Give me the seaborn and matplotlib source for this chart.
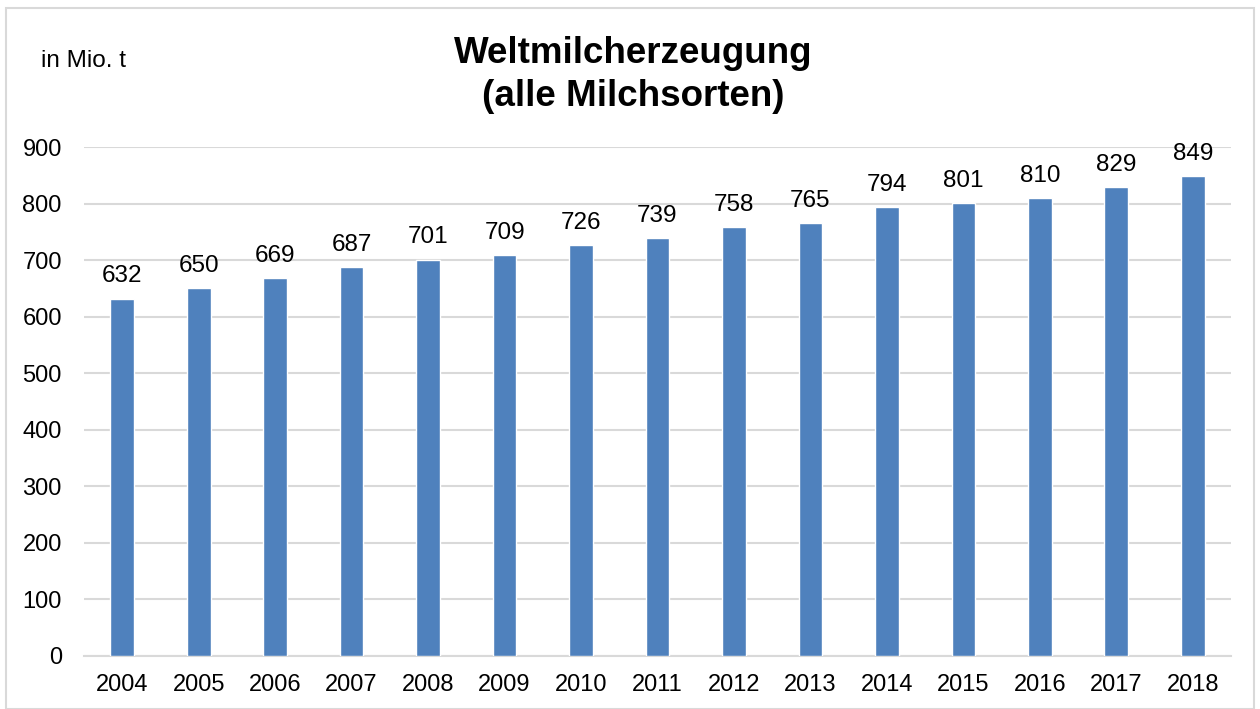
import pandas as pd
import matplotlib.pyplot as plt
import seaborn as sns
from matplotlib.patches import Rectangle

# Data
years = ['2004', '2005', '2006', '2007', '2008', '2009', '2010', '2011',
         '2012', '2013', '2014', '2015', '2016', '2017', '2018']
production = [632, 650, 669, 687, 701, 709, 726, 739, 758, 765, 794, 801, 810, 829, 849]
y_ticks = [0, 100, 200, 300, 400, 500, 600, 700, 800, 900]

BAR_COLOR = '#4F81BD'
GRID_COLOR = '#D9D9D9'


def main():
    df = pd.DataFrame({'Jahr': years, 'Produktion': production})

    sns.set_style("white")
    plt.rcParams['font.family'] = ['Liberation Sans', 'DejaVu Sans']
    plt.rcParams['text.color'] = 'black'
    plt.rcParams['xtick.color'] = 'black'
    plt.rcParams['ytick.color'] = 'black'

    fig = plt.figure(figsize=(12.6, 7.09), dpi=100)
    ax = fig.add_axes([84 / 1260, 53 / 709, (1231 - 84) / 1260, (656 - 147) / 709])

    sns.barplot(data=df, x='Jahr', y='Produktion', color=BAR_COLOR,
                saturation=1, width=0.31, ax=ax, zorder=3)

    ax.set_ylim(0, 900)
    ax.set_xlim(-0.5, len(years) - 0.5)
    ax.set_yticks(y_ticks)
    ax.yaxis.grid(True, color=GRID_COLOR, linewidth=1.5, zorder=0)
    ax.set_axisbelow(True)
    for side in ['top', 'right', 'left']:
        ax.spines[side].set_visible(False)
    ax.spines['bottom'].set_color(GRID_COLOR)
    ax.spines['bottom'].set_linewidth(1.5)
    ax.tick_params(axis='x', length=0, pad=13, labelsize=17)
    ax.tick_params(axis='y', length=0, pad=16, labelsize=17)
    ax.set_xlabel('')
    ax.set_ylabel('')

    # value labels
    for i, v in enumerate(production):
        ax.annotate(str(v), (i, v), xytext=(0, 8), textcoords='offset points',
                    ha='center', va='bottom', fontsize=17.5)

    fig.text(0.5025, 1 - 36 / 709, 'Weltmilcherzeugung\n(alle Milchsorten)',
             ha='center', va='top', fontsize=26.5, fontweight='bold', linespacing=1.28)
    fig.text(41 / 1260, 1 - 61 / 709, 'in Mio. t', ha='left', va='center', fontsize=17.5)

    # chart frame
    fig.patches.append(Rectangle((6 / 1260, 0), 1248 / 1260, 1 - 8 / 709,
                                 transform=fig.transFigure, fill=False,
                                 edgecolor=GRID_COLOR, linewidth=1.5))

    fig.savefig('out.png', dpi=100)
    plt.close(fig)


if __name__ == "__main__":
    main()
